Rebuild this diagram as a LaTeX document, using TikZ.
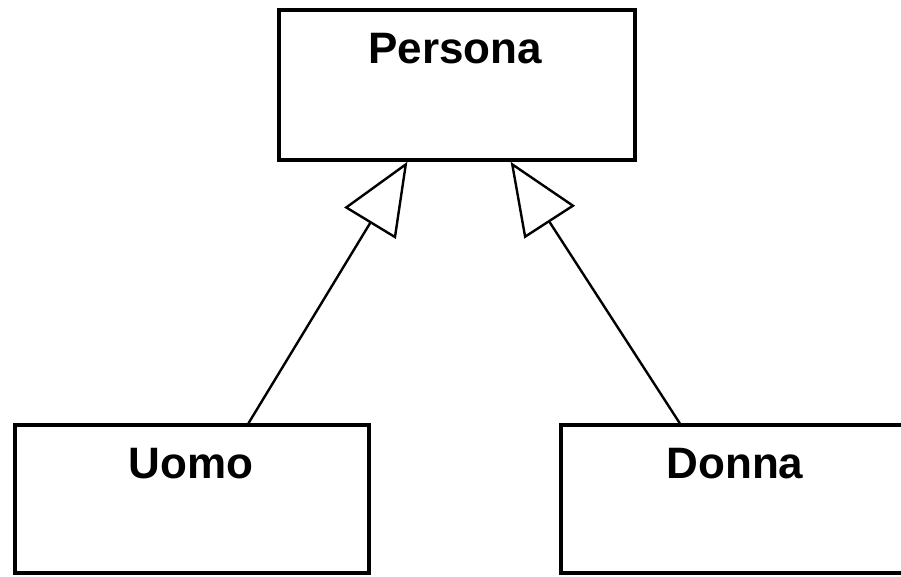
\documentclass[tikz,border=0pt]{standalone}
\usepackage{fontspec}
\setmainfont{Liberation Sans}
\usetikzlibrary{arrows.meta,calc}
\begin{document}
\begin{tikzpicture}[x=1pt,y=-1pt,
  classbox/.style={draw=black,line width=3.5pt,fill=white,inner sep=0pt,minimum height=148pt},
  classname/.style={anchor=base,font=\fontsize{44}{50}\selectfont\bfseries,inner sep=0pt},
  inherit/.style={draw=black,line width=2.4pt,-{Triangle[open,length=72pt,width=60pt,line width=2.4pt]}}]
\useasboundingbox[fill=white] (0,0) rectangle (901,576);
\node[classbox,minimum width=356pt,minimum height=150pt] (persona) at (457,85) {};
\node[classbox,minimum width=354pt] (uomo) at (192,499) {};
\node[classbox,minimum width=352pt] (donna) at (737,499) {};
\node[classname] (tpersona) at (455,63) {Persona};
\node[classname] (tuomo) at (191,478) {Uomo};
\node[classname] (tdonna) at (735,478) {Donna};
\draw[inherit] ($(uomo.north west)!0.658!(uomo.north east)$) -- ($(persona.south west)!0.362!(persona.south east)$);
\draw[inherit] ($(donna.north west)!0.339!(donna.north east)$) -- ($(persona.south west)!0.649!(persona.south east)$);
\end{tikzpicture}
\end{document}
